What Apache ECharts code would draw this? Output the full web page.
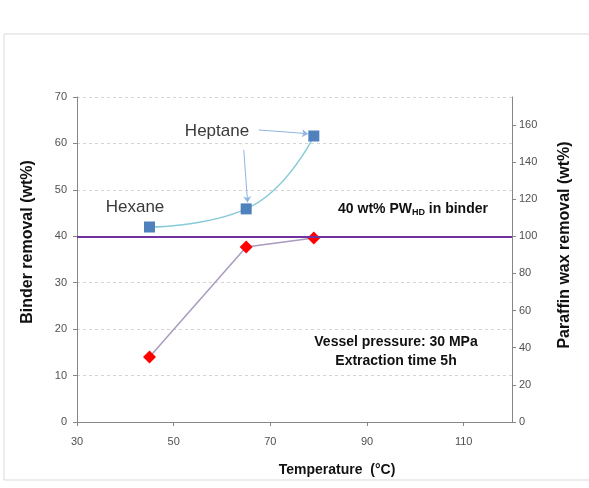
<!DOCTYPE html>
<html>
<head>
<meta charset="utf-8">
<script src="https://cdn.jsdelivr.net/npm/echarts@6/dist/echarts.min.js"></script>
<style>
  html, body { margin: 0; padding: 0; background: #fff; }
  #chart { width: 589px; height: 488px; }
</style>
</head>
<body>
<div id="chart"></div>
<script>
// temperatures (°C)
const blueTemps = [45, 65, 79]
const binderRemoval = [42.0, 45.9, 61.6]
const redTemps = [45, 65, 79]
const waxRemoval = [35.0, 94.2, 99.1]
const refLine = 40 // 100% wax line on binder axis

const chart = echarts.init(document.getElementById('chart'))
const axisCol = '#868686'
const labelCol = '#505050'
const font = 'Liberation Sans'

chart.setOption({
  animation: false,
  grid: { left: 77, right: 77, top: 97, bottom: 66 },
  xAxis: {
    type: 'value', min: 30, max: 120, interval: 20,
    axisLine: { lineStyle: { color: axisCol } },
    axisTick: { show: true, length: 4, lineStyle: { color: axisCol } },
    axisLabel: { color: labelCol, fontSize: 11, fontFamily: font, margin: 14, showMaxLabel: false },
    splitLine: { show: false }
  },
  yAxis: [{
    type: 'value', min: 0, max: 70, interval: 10,
    axisLine: { show: true, lineStyle: { color: axisCol } },
    axisTick: { show: true, length: 4, lineStyle: { color: axisCol } },
    axisLabel: { color: labelCol, fontSize: 11, fontFamily: font, margin: 10 },
    splitLine: { lineStyle: { color: '#d4d4d4', type: [3, 3] } }
  }, {
    type: 'value', min: 0, max: 175, interval: 20,
    axisLine: { show: true, lineStyle: { color: axisCol } },
    axisTick: { show: true, length: 4, lineStyle: { color: axisCol } },
    axisLabel: { color: labelCol, fontSize: 11, fontFamily: font, margin: 7, showMaxLabel: false },
    splitLine: { show: false }
  }],
  series: [{
    type: 'line',
    data: redTemps.map((t, i) => [t, waxRemoval[i]]),
    yAxisIndex: 1,
    symbol: 'diamond', symbolSize: 13,
    itemStyle: { color: '#ff0000' },
    lineStyle: { color: '#a99bbd', width: 1.5 },
    z: 3
  }, {
    type: 'line',
    data: blueTemps.map((t, i) => [t, binderRemoval[i]]),
    smooth: true,
    symbol: 'rect', symbolSize: 11,
    itemStyle: { color: '#4f81bd' },
    lineStyle: { color: '#86cad8', width: 1.5 },
    markLine: {
      silent: true,
      symbol: ['none', 'none'],
      label: { show: false },
      lineStyle: { color: '#7030a0', width: 2, type: 'solid' },
      data: [{ yAxis: refLine }]
    },
    z: 4
  }, {
    type: 'line',
    data: [],
    markLine: {
      silent: true,
      symbol: ['none', 'arrow'], symbolSize: 6,
      label: { show: false },
      lineStyle: { color: '#8eb4e3', width: 1, type: 'solid' },
      data: [
        [{ coord: [67.6, 62.9] }, { coord: [77.8, 62.1], lineStyle: { curveness: -0.1 } }],
        [{ coord: [64.5, 58.6] }, { coord: [65.3, 47.3], lineStyle: { curveness: 0.08 } }]
      ]
    }
  }],
  graphic: [
    { type: 'rect', shape: { x: 4, y: 34, width: 600, height: 446 }, style: { fill: 'none', stroke: '#d9d9d9', lineWidth: 1 }, z: -1 },
    { type: 'text', x: 28, y: 242, rotation: Math.PI / 2, style: {
      text: 'Binder removal (wt%)', textAlign: 'center', textVerticalAlign: 'middle',
      fontSize: 16, fontWeight: 'bold', fill: '#111', fontFamily: font
    } },
    { type: 'text', x: 565, y: 245, rotation: Math.PI / 2, style: {
      text: 'Paraffin wax removal (wt%)', textAlign: 'center', textVerticalAlign: 'middle',
      fontSize: 16, fontWeight: 'bold', fill: '#111', fontFamily: font
    } },
    { type: 'text', x: 337, y: 470, style: {
      text: 'Temperature  (°C)', textAlign: 'center', textVerticalAlign: 'middle',
      fontSize: 14, fontWeight: 'bold', fill: '#111', fontFamily: font
    } },
    { type: 'text', x: 217, y: 131, style: { text: 'Heptane', textAlign: 'center', textVerticalAlign: 'middle', fontSize: 17, fill: '#3a3a3a', fontFamily: font } },
    { type: 'text', x: 135, y: 207, style: { text: 'Hexane', textAlign: 'center', textVerticalAlign: 'middle', fontSize: 17, fill: '#3a3a3a', fontFamily: font } },
    { type: 'text', x: 413, y: 209, style: {
      text: '{b|40 wt% PW}{s|HD}{b| in binder}', textAlign: 'center', textVerticalAlign: 'middle',
      rich: {
        b: { fontSize: 14, fontWeight: 'bold', fill: '#111', fontFamily: font },
        s: { fontSize: 9, fontWeight: 'bold', fill: '#111', fontFamily: font, padding: [7, 0, 0, 0] }
      }
    } },
    { type: 'text', x: 396, y: 352, style: {
      text: 'Vessel pressure: 30 MPa\nExtraction time 5h',
      textAlign: 'center', textVerticalAlign: 'middle',
      fontSize: 14, fontWeight: 'bold', fill: '#111', lineHeight: 19, fontFamily: font
    } }
  ]
})
</script>
</body>
</html>
